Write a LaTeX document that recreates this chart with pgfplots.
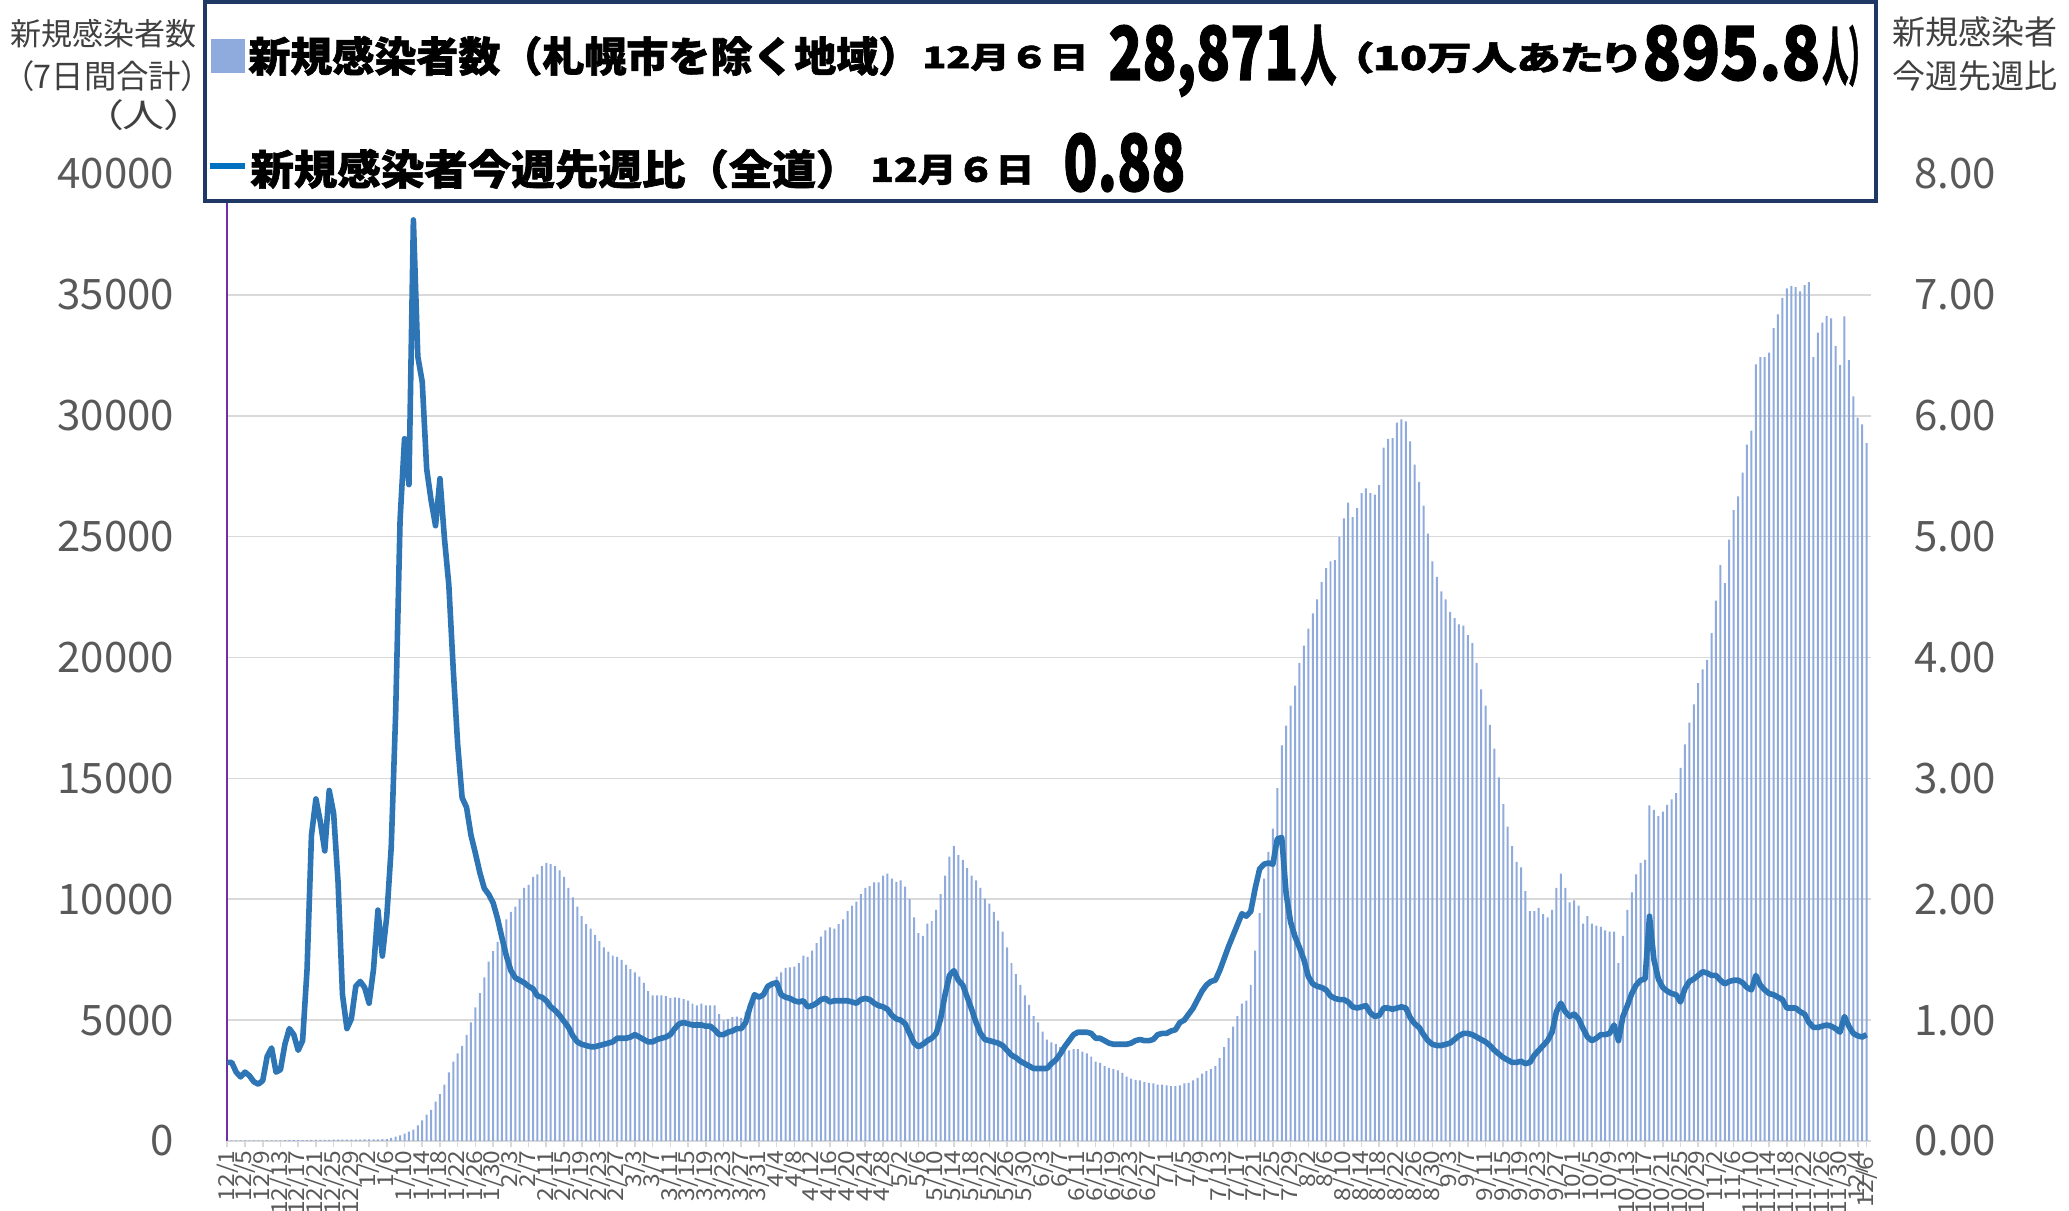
\documentclass[border=0pt]{standalone}
\usepackage{fontspec}
\setmainfont{Noto Sans CJK JP}
\newfontfamily\hv{Noto Sans CJK JP}[BoldFeatures={FakeBold=1.5}]
\newfontfamily\xtf{Noto Sans CJK JP}[FakeStretch=1.12]
\usepackage{graphicx}
\usepackage{pgfplots}
\usepackage{pgfplotstable}
\pgfplotsset{compat=1.18}
\definecolor{barblue}{RGB}{143,170,220}
\definecolor{lineblue}{RGB}{46,117,182}
\definecolor{legline}{RGB}{0,112,192}
\definecolor{navy}{RGB}{32,56,100}
\definecolor{gridgray}{RGB}{217,217,217}
\definecolor{ticklab}{RGB}{89,89,89}
\definecolor{purp}{RGB}{112,48,160}
\definecolor{titgray}{RGB}{64,64,64}
\pgfplotstableread{
d c r
0 30 0.65
1 28 0.65
2 27 0.57
3 25 0.53
4 24 0.57
5 24 0.54
6 25 0.49
7 26 0.47
8 27 0.50
9 28 0.70
10 30 0.77
11 31 0.57
12 30 0.59
13 32 0.80
14 34 0.93
15 35 0.88
16 36 0.75
17 38 0.83
18 40 1.42
19 42 2.53
20 44 2.83
21 46 2.64
22 48 2.40
23 50 2.90
24 52 2.71
25 54 2.14
26 55 1.21
27 56 0.93
28 58 1.01
29 60 1.28
30 62 1.32
31 64 1.27
32 66 1.14
33 68 1.42
34 72 1.91
35 76 1.53
36 80 1.86
37 130 2.43
38 180 3.54
39 230 5.14
40 310 5.81
41 390 5.43
42 470 7.62
43 650 6.49
44 850 6.28
45 1090 5.56
46 1290 5.30
47 1630 5.09
48 1940 5.48
49 2330 4.99
50 2840 4.60
51 3280 3.90
52 3620 3.28
53 3930 2.84
54 4390 2.76
55 4910 2.53
56 5530 2.38
57 6120 2.22
58 6770 2.09
59 7420 2.04
60 7850 1.97
61 8240 1.84
62 8710 1.68
63 9170 1.53
64 9480 1.41
65 9690 1.35
66 10000 1.33
67 10470 1.31
68 10590 1.28
69 10930 1.26
70 11030 1.20
71 11370 1.19
72 11500 1.16
73 11450 1.11
74 11370 1.08
75 11190 1.04
76 10930 0.99
77 10470 0.94
78 10080 0.87
79 9690 0.82
80 9300 0.80
81 8970 0.79
82 8790 0.78
83 8530 0.78
84 8270 0.79
85 8010 0.80
86 7830 0.81
87 7670 0.82
88 7620 0.85
89 7490 0.85
90 7290 0.85
91 7110 0.86
92 6980 0.88
93 6800 0.86
94 6540 0.84
95 6200 0.82
96 6020 0.82
97 6020 0.84
98 6020 0.85
99 5990 0.86
100 5920 0.88
101 5940 0.93
102 5920 0.97
103 5870 0.98
104 5810 0.97
105 5680 0.96
106 5610 0.96
107 5680 0.96
108 5610 0.95
109 5610 0.95
110 5610 0.92
111 5250 0.88
112 4990 0.88
113 5040 0.90
114 5120 0.91
115 5140 0.93
116 5090 0.93
117 5350 0.98
118 5680 1.11
119 5870 1.21
120 5990 1.19
121 6120 1.21
122 6200 1.28
123 6400 1.30
124 6800 1.31
125 6980 1.21
126 7160 1.19
127 7180 1.18
128 7210 1.16
129 7360 1.15
130 7670 1.16
131 7620 1.11
132 7880 1.12
133 8190 1.14
134 8450 1.17
135 8710 1.18
136 8840 1.15
137 8790 1.16
138 8970 1.16
139 9170 1.16
140 9510 1.16
141 9740 1.15
142 9900 1.14
143 10210 1.17
144 10470 1.18
145 10540 1.17
146 10700 1.14
147 10700 1.12
148 10980 1.11
149 11060 1.09
150 10850 1.04
151 10720 1.01
152 10780 1.00
153 10520 0.97
154 10000 0.89
155 9250 0.81
156 8600 0.78
157 8480 0.80
158 8990 0.83
159 9100 0.85
160 9560 0.89
161 10210 1.01
162 10980 1.21
163 11760 1.37
164 12200 1.41
165 11830 1.33
166 11630 1.29
167 11290 1.19
168 10980 1.09
169 10780 0.98
170 10470 0.89
171 10030 0.84
172 9820 0.83
173 9480 0.82
174 9120 0.81
175 8660 0.79
176 8010 0.75
177 7360 0.71
178 6900 0.69
179 6460 0.66
180 6020 0.64
181 5630 0.62
182 5170 0.60
183 4910 0.60
184 4520 0.60
185 4190 0.60
186 4080 0.64
187 4010 0.67
188 3880 0.72
189 3800 0.78
190 3750 0.83
191 3800 0.88
192 3800 0.90
193 3700 0.90
194 3620 0.90
195 3490 0.89
196 3280 0.85
197 3230 0.85
198 3100 0.83
199 3020 0.81
200 2970 0.80
201 2920 0.80
202 2820 0.80
203 2660 0.80
204 2580 0.81
205 2530 0.83
206 2510 0.84
207 2450 0.83
208 2400 0.83
209 2380 0.84
210 2330 0.88
211 2330 0.89
212 2300 0.89
213 2270 0.91
214 2270 0.92
215 2300 0.98
216 2380 1.00
217 2400 1.05
218 2510 1.10
219 2610 1.17
220 2790 1.24
221 2890 1.29
222 2970 1.32
223 3100 1.33
224 3440 1.41
225 3880 1.51
226 4260 1.61
227 4730 1.70
228 5170 1.79
229 5680 1.88
230 5810 1.86
231 6460 1.90
232 7880 2.09
233 9430 2.25
234 10850 2.29
235 11960 2.30
236 12920 2.29
237 14600 2.50
238 16360 2.51
239 17180 2.04
240 18010 1.81
241 18840 1.69
242 19770 1.60
243 20490 1.50
244 21190 1.36
245 21830 1.30
246 22400 1.28
247 23130 1.27
248 23700 1.25
249 23980 1.20
250 24030 1.18
251 24990 1.17
252 25760 1.17
253 26410 1.15
254 25810 1.11
255 26180 1.10
256 26800 1.11
257 27000 1.12
258 26800 1.06
259 26740 1.03
260 27130 1.04
261 28680 1.10
262 29040 1.10
263 29070 1.09
264 29720 1.10
265 29850 1.11
266 29770 1.10
267 28940 1.02
268 27980 0.97
269 27260 0.94
270 26280 0.88
271 25120 0.83
272 23980 0.80
273 23330 0.79
274 22740 0.79
275 22400 0.80
276 21890 0.81
277 21630 0.84
278 21370 0.87
279 21320 0.89
280 20930 0.89
281 20590 0.88
282 19770 0.86
283 18680 0.84
284 18010 0.82
285 17210 0.79
286 16230 0.75
287 15040 0.72
288 13930 0.69
289 13000 0.67
290 12200 0.65
291 11550 0.65
292 11320 0.66
293 10340 0.64
294 9510 0.65
295 9510 0.71
296 9640 0.75
297 9380 0.79
298 9250 0.83
299 9560 0.90
300 10470 1.07
301 11060 1.14
302 10470 1.07
303 9870 1.03
304 9950 1.05
305 9740 1.01
306 8990 0.93
307 9300 0.86
308 8990 0.83
309 8910 0.85
310 8860 0.88
311 8710 0.88
312 8660 0.89
313 8660 0.96
314 7360 0.83
315 8480 1.03
316 9560 1.12
317 10280 1.22
318 11030 1.29
319 11500 1.33
320 11630 1.34
321 13880 1.86
322 13700 1.50
323 13440 1.34
324 13620 1.27
325 13900 1.24
326 14130 1.22
327 14390 1.21
328 15430 1.15
329 16410 1.26
330 17310 1.32
331 18060 1.34
332 18940 1.37
333 19510 1.40
334 19900 1.39
335 21010 1.37
336 22350 1.37
337 23820 1.33
338 23080 1.30
339 24880 1.32
340 26100 1.33
341 26670 1.33
342 27650 1.31
343 28810 1.27
344 29380 1.25
345 32120 1.37
346 32430 1.29
347 32430 1.25
348 32610 1.22
349 33620 1.21
350 34190 1.19
351 34880 1.17
352 35270 1.10
353 35370 1.10
354 35320 1.10
355 35140 1.07
356 35400 1.05
357 35530 0.98
358 32430 0.94
359 33440 0.94
360 33850 0.95
361 34130 0.96
362 34030 0.95
363 32890 0.93
364 32090 0.90
365 34110 1.03
366 32300 0.95
367 30800 0.89
368 29920 0.87
369 29640 0.86
370 28871 0.88
}\data
\begin{document}
\begin{tikzpicture}
\useasboundingbox (0,0) rectangle (1034.5pt,605.5pt);
\begin{axis}[
  at={(113.65pt,35pt)}, anchor=south west, scale only axis,
  width=821.85pt, height=483.5pt,
  xmin=0, xmax=371, ymin=0, ymax=40000, enlargelimits=false,
  axis x line*=bottom, axis y line*=left,
  x axis line style={draw=gridgray, line width=1pt, -},
  y axis line style={draw=purp, line width=0.8pt, -},
  xtick={0,4,...,368},
  xticklabels={12/1,12/5,12/9,12/13,12/17,12/21,12/25,12/29,1/2,1/6,1/10,1/14,1/18,1/22,1/26,1/30,2/3,2/7,2/11,2/15,2/19,2/23,2/27,3/3,3/7,3/11,3/15,3/19,3/23,3/27,3/31,4/4,4/8,4/12,4/16,4/20,4/24,4/28,5/2,5/6,5/10,5/14,5/18,5/22,5/26,5/30,6/3,6/7,6/11,6/15,6/19,6/23,6/27,7/1,7/5,7/9,7/13,7/17,7/21,7/25,7/29,8/2,8/6,8/10,8/14,8/18,8/22,8/26,8/30,9/3,9/7,9/11,9/15,9/19,9/23,9/27,10/1,10/5,10/9,10/13,10/17,10/21,10/25,10/29,11/2,11/6,11/10,11/14,11/18,11/22,11/26,11/30,12/4},
  extra x ticks={370}, extra x tick labels={12/6},
  extra x tick style={tick label style={yshift=-3pt}},
  xtick style={draw=gridgray, line width=0.8pt},
  tick align=outside, major tick length=3pt,
  xticklabel style={font=\xtf\fontsize{11}{11}\selectfont, text=ticklab, rotate=90, anchor=east, inner sep=1.5pt},
  ytick={0,5000,...,40000}, ytick style={draw=none},
  ymajorgrids, grid style={draw=gridgray, line width=0.8pt},
  yticklabel style={font=\fontsize{21}{21}\selectfont, text=ticklab, xshift=-20pt},
  /pgf/number format/assume math mode=true,
  /pgf/number format/set thousands separator={},
  scaled y ticks=false,
]
\addplot[ybar, bar width=0.45, fill=barblue, draw=none] table[x=d, y=c]{\data};
\end{axis}
\begin{axis}[
  at={(113.65pt,35pt)}, anchor=south west, scale only axis,
  width=821.85pt, height=483.5pt,
  xmin=0, xmax=371, ymin=0, ymax=8, enlargelimits=false,
  axis y line*=right, axis x line=none,
  y axis line style={draw=none},
  ytick={0,1,...,8}, ytick style={draw=none},
  yticklabel style={font=\fontsize{21}{21}\selectfont, text=ticklab, xshift=18pt},
  /pgf/number format/assume math mode=true,
  /pgf/number format/fixed, /pgf/number format/fixed zerofill,
  /pgf/number format/precision=2,
]
\addplot[lineblue, line width=2.8pt, line join=round, no marks] table[x=d, y=r]{\data};
\end{axis}
% axis titles
\node[anchor=east, inner sep=0, text=titgray, font=\fontsize{15.5}{15.5}\selectfont] at (98.5pt,588.5pt) {新規感染者数};
\node[anchor=east, inner sep=0, text=titgray] at (99pt,567.25pt) {\resizebox*{90pt}{15.5pt}{\fontsize{15.5}{15.5}\selectfont\addfontfeature{RawFeature=+palt}（7日間合計）}};
\node[anchor=east, inner sep=0, text=titgray] at (93pt,548pt) {\resizebox*{42pt}{15.5pt}{\fontsize{15.5}{15.5}\selectfont\addfontfeature{RawFeature=+palt}（人）}};
\node[anchor=west, inner sep=0, text=titgray, font=\fontsize{16.5}{16.5}\selectfont] at (946pt,589.5pt) {新規感染者};
\node[anchor=west, inner sep=0, text=titgray, font=\fontsize{16.5}{16.5}\selectfont] at (946pt,567.5pt) {今週先週比};
% legend box
\filldraw[fill=white, draw=navy, line width=2pt] (102.5pt,505pt) rectangle (938pt,604.5pt);
\fill[barblue] (105.5pt,569pt) rectangle (122.5pt,586pt);
\draw[legline, line width=3pt] (105pt,522.5pt) -- (122.5pt,522.5pt);
% row 1
\node[anchor=west, inner sep=0] at (124pt,577.5pt) {\resizebox*{336pt}{20pt}{\hv\bfseries 新規感染者数（札幌市を除く地域）}};
\node[anchor=west, inner sep=0] at (461pt,576.75pt) {\resizebox*{83pt}{13.5pt}{\hv\bfseries 12月６日}};
\node[anchor=base west, inner sep=0] at (554pt,565.5pt) {\resizebox{95pt}{27.5pt}{\hv\bfseries 28,871}};
\node[anchor=base west, inner sep=0] at (650pt,565.5pt) {\resizebox{18pt}{27.5pt}{\hv\bfseries 人}};
\node[anchor=west, inner sep=0] at (675pt,576.75pt) {\resizebox*{144pt}{16pt}{\hv\bfseries\addfontfeature{RawFeature=+palt}（10万人あたり}};
\node[anchor=base west, inner sep=0] at (821pt,565.5pt) {\resizebox{89pt}{27.5pt}{\hv\bfseries 895.8}};
\node[anchor=base west, inner sep=0] at (911pt,565.5pt) {\resizebox{26pt}{27.5pt}{\hv\bfseries 人）}};
% row 2
\node[anchor=west, inner sep=0] at (125pt,521pt) {\resizebox*{304.5pt}{20pt}{\hv\bfseries 新規感染者今週先週比（全道）}};
\node[anchor=west, inner sep=0] at (435pt,520.5pt) {\resizebox*{82pt}{15pt}{\hv\bfseries 12月６日}};
\node[anchor=base west, inner sep=0] at (531.5pt,510pt) {\resizebox{61pt}{29pt}{\hv\bfseries 0.88}};
\end{tikzpicture}
\end{document}
